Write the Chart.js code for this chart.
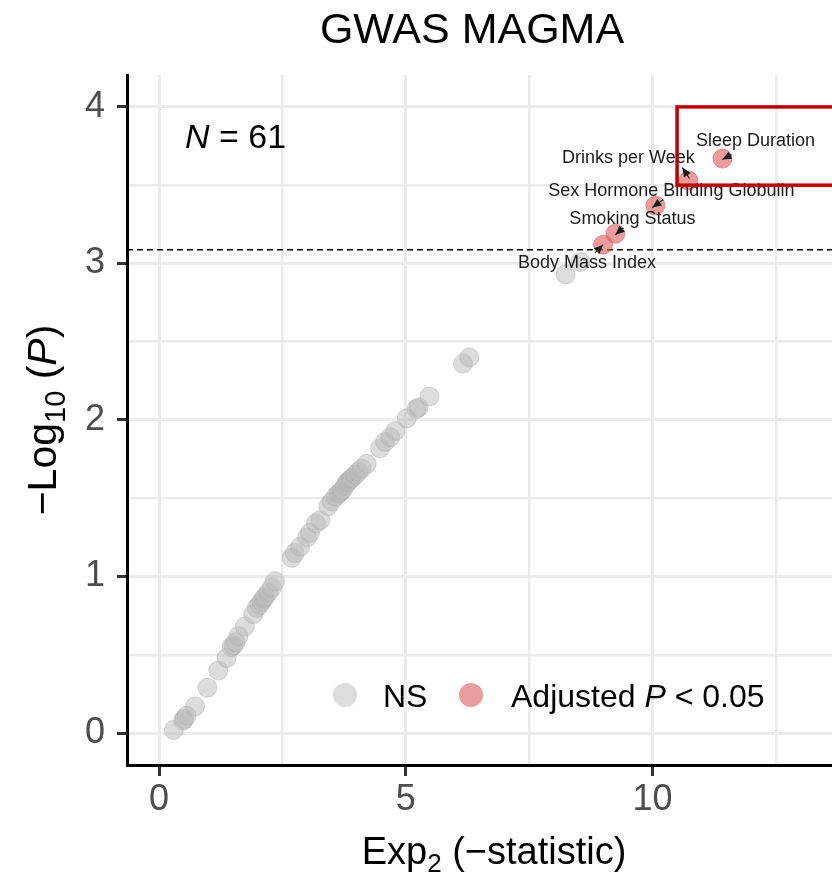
<!DOCTYPE html>
<html>
<head>
<meta charset="utf-8">
<script src="https://cdn.jsdelivr.net/npm/chart.js@4.4.0/dist/chart.umd.min.js"></script>
<style>
  html, body { margin: 0; padding: 0; background: #fff; }
  #wrap { width: 832px; height: 875px; }
</style>
</head>
<body>
<div id="wrap"><canvas id="chart" width="832" height="875"></canvas></div>
<script>
// non-significant genes sets (x = Exp2(-statistic), y = -log10 P)
const nsX = [0.30, 0.49, 0.51, 0.56, 0.73, 0.98, 1.20, 1.37, 1.47, 1.51, 1.55, 1.61, 1.74, 1.91,
  1.98, 2.04, 2.08, 2.12, 2.15, 2.22, 2.29, 2.35, 2.69, 2.75, 2.86, 3.00, 3.06, 3.18, 3.27,
  3.43, 3.50, 3.58, 3.64, 3.68, 3.71, 3.77, 3.81, 3.84, 3.88, 3.91, 3.98, 4.04, 4.11, 4.21,
  4.48, 4.58, 4.69, 4.79, 5.02, 5.22, 5.26, 5.48, 6.16, 6.29, 8.24, 8.54];
const nsY = [0.02, 0.08, 0.09, 0.11, 0.17, 0.29, 0.40, 0.48, 0.55, 0.56, 0.58, 0.62, 0.68, 0.76,
  0.80, 0.82, 0.84, 0.86, 0.87, 0.90, 0.93, 0.97, 1.12, 1.15, 1.19, 1.25, 1.28, 1.34, 1.36,
  1.45, 1.48, 1.51, 1.53, 1.54, 1.55, 1.58, 1.60, 1.61, 1.62, 1.63, 1.65, 1.67, 1.69, 1.72,
  1.82, 1.86, 1.89, 1.93, 2.01, 2.07, 2.08, 2.15, 2.36, 2.40, 2.93, 3.01];

// significant traits
const sigX = [11.42, 10.73, 10.06, 9.25, 9.00];
const sigY = [3.67, 3.53, 3.37, 3.19, 3.12];
const sigLabels = ['Sleep Duration', 'Drinks per Week', 'Sex Hormone Binding Globulin',
  'Smoking Status', 'Body Mass Index'];

const threshold = 3.087;   // -log10(0.05 / 61)
const nTotal = 61;
const boxX = [10.5, 14.5];
const boxY = [3.5, 4.0];

const xGrid = [0, 2.5, 5, 7.5, 10, 12.5];
const yGrid = [0, 0.5, 1, 1.5, 2, 2.5, 3, 3.5, 4];

// where each repel label sits relative to its point (px), and its little arrow
const labelLayout = [
  { dx: 33, dy: -18, ax: 9, ay: -4, bx: 0, by: 1 },
  { dx: -60, dy: -22, ax: 1, ay: -2, bx: -6, by: -13 },
  { dx: 16, dy: -15, ax: 8, ay: -6, bx: -3, by: 2 },
  { dx: 17, dy: -15, ax: 8, ay: -6, bx: 0, by: 1 },
  { dx: -16, dy: 18, ax: -8, ay: 8, bx: 0, by: 0 }
];

const FONT = '"Liberation Sans", Arial, Helvetica, sans-serif';
const GRAY = 'rgba(185, 185, 185, 0.5)';
const RED = 'rgba(220, 90, 95, 0.6)';

function font(size, italic) {
  return (italic ? 'italic ' : '') + size + 'px ' + FONT;
}

// draws a run of text pieces (subscripts / italics) centred on x
function drawRuns(ctx, parts, x, y, align) {
  let total = 0;
  parts.forEach(p => {
    ctx.font = font(p.size, p.italic);
    p.w = ctx.measureText(p.text).width;
    total += p.w;
  });
  let cx = align === 'left' ? x : x - total / 2;
  ctx.textAlign = 'left';
  ctx.textBaseline = 'alphabetic';
  parts.forEach(p => {
    ctx.font = font(p.size, p.italic);
    ctx.fillText(p.text, cx, y + (p.dy || 0));
    cx += p.w;
  });
}

function arrowHead(ctx, x1, y1, x2, y2) {
  const ang = Math.atan2(y2 - y1, x2 - x1);
  const len = 9, half = 4;
  ctx.beginPath();
  ctx.moveTo(x2, y2);
  ctx.lineTo(x2 - len * Math.cos(ang) + half * Math.sin(ang), y2 - len * Math.sin(ang) - half * Math.cos(ang));
  ctx.lineTo(x2 - len * Math.cos(ang) - half * Math.sin(ang), y2 - len * Math.sin(ang) + half * Math.cos(ang));
  ctx.closePath();
  ctx.fill();
}

const decorations = {
  id: 'decorations',
  beforeDatasetsDraw(chart) {
    const { ctx, chartArea, scales } = chart;
    const yy = scales.y.getPixelForValue(threshold);
    ctx.save();
    ctx.strokeStyle = '#000';
    ctx.lineWidth = 1.5;
    ctx.setLineDash([6, 4]);
    ctx.beginPath();
    ctx.moveTo(chartArea.left, yy);
    ctx.lineTo(chartArea.right, yy);
    ctx.stroke();
    ctx.restore();
  },
  afterDatasetsDraw(chart) {
    const { ctx, scales } = chart;
    const xs = scales.x, ys = scales.y;
    ctx.save();

    // repel labels
    ctx.fillStyle = '#1a1a1a';
    sigLabels.forEach((lab, i) => {
      const px = xs.getPixelForValue(sigX[i]);
      const py = ys.getPixelForValue(sigY[i]);
      const l = labelLayout[i];
      ctx.font = font(18);
      ctx.textAlign = 'center';
      ctx.textBaseline = 'middle';
      ctx.fillText(lab, px + l.dx, py + l.dy);
      ctx.strokeStyle = '#1a1a1a';
      ctx.lineWidth = 1.2;
      ctx.beginPath();
      ctx.moveTo(px + l.ax, py + l.ay);
      ctx.lineTo(px + l.bx, py + l.by);
      ctx.stroke();
      arrowHead(ctx, px + l.ax, py + l.ay, px + l.bx, py + l.by);
    });

    // highlight box
    const bx1 = xs.getPixelForValue(boxX[0]);
    const bx2 = xs.getPixelForValue(boxX[1]);
    const by1 = ys.getPixelForValue(boxY[1]);
    const by2 = ys.getPixelForValue(boxY[0]);
    ctx.strokeStyle = '#c00000';
    ctx.lineWidth = 3.5;
    ctx.strokeRect(bx1, by1, bx2 - bx1, by2 - by1);

    // N annotation
    ctx.fillStyle = '#000';
    drawRuns(ctx, [
      { text: 'N', size: 34, italic: true },
      { text: ' = ' + nTotal, size: 34 }
    ], 185, 148, 'left');

    // legend
    ctx.fillStyle = GRAY;
    ctx.beginPath(); ctx.arc(345, 695, 12, 0, Math.PI * 2); ctx.fill();
    ctx.fillStyle = RED;
    ctx.beginPath(); ctx.arc(471, 695, 12, 0, Math.PI * 2); ctx.fill();
    ctx.fillStyle = '#000';
    drawRuns(ctx, [{ text: 'NS', size: 32 }], 383, 707, 'left');
    drawRuns(ctx, [
      { text: 'Adjusted ', size: 32 },
      { text: 'P', size: 32, italic: true },
      { text: ' < 0.05', size: 32 }
    ], 511, 707, 'left');
    ctx.restore();
  },
  afterDraw(chart) {
    const { ctx } = chart;
    ctx.save();
    ctx.fillStyle = '#000';
    drawRuns(ctx, [{ text: 'GWAS MAGMA', size: 43 }], 472, 43);
    drawRuns(ctx, [
      { text: 'Exp', size: 38 },
      { text: '2', size: 26, dy: 8 },
      { text: ' (\u2212statistic)', size: 38 }
    ], 494, 864);
    ctx.translate(56, 420);
    ctx.rotate(-Math.PI / 2);
    drawRuns(ctx, [
      { text: '\u2212Log', size: 41 },
      { text: '10', size: 29, dy: 9 },
      { text: ' (', size: 41 },
      { text: 'P', size: 41, italic: true },
      { text: ')', size: 41 }
    ], 0, 0);
    ctx.restore();
  }
};

const isMajorX = v => Math.abs(v % 5) < 1e-9;
const isMajorY = v => Math.abs(v % 1) < 1e-9;

new Chart(document.getElementById('chart'), {
  type: 'scatter',
  data: {
    datasets: [
      {
        label: 'NS',
        data: nsX.map((x, i) => ({ x: x, y: nsY[i] })),
        backgroundColor: GRAY,
        borderColor: 'rgba(170, 170, 170, 0.45)',
        borderWidth: 1,
        pointRadius: 9.5
      },
      {
        label: 'Adjusted P < 0.05',
        data: sigX.map((x, i) => ({ x: x, y: sigY[i] })),
        backgroundColor: RED,
        borderColor: 'rgba(215, 80, 85, 0.5)',
        borderWidth: 1,
        pointRadius: 9.5
      }
    ]
  },
  options: {
    responsive: false,
    animation: false,
    events: [],
    layout: { autoPadding: false, padding: { top: 75, left: 0, right: 0, bottom: 0 } },
    plugins: {
      legend: { display: false },
      tooltip: { enabled: false },
      title: { display: false }
    },
    scales: {
      x: {
        type: 'linear',
        min: -0.649,
        max: 13.64,
        afterBuildTicks: s => { s.ticks = xGrid.map(v => ({ value: v })); },
        afterFit: s => { s.height = 110; s.paddingLeft = 0; s.paddingRight = 0; },
        ticks: {
          autoSkip: false,
          maxRotation: 0,
          padding: 2,
          color: '#4d4d4d',
          font: { family: FONT, size: 36 },
          callback: v => isMajorX(v) ? String(v) : ''
        },
        grid: {
          color: '#ebebeb',
          lineWidth: c => (c.tick && isMajorX(c.tick.value)) ? 3 : 2.5,
          tickColor: c => (c.tick && isMajorX(c.tick.value)) ? '#333' : 'rgba(0,0,0,0)',
          tickLength: 11,
          tickWidth: 3
        },
        border: { display: true, color: '#000', width: 3 }
      },
      y: {
        type: 'linear',
        min: -0.204,
        max: 4.204,
        afterBuildTicks: s => { s.ticks = yGrid.map(v => ({ value: v })); },
        afterFit: s => { s.width = 127; s.paddingTop = 0; s.paddingBottom = 0; },
        ticks: {
          autoSkip: false,
          padding: 12,
          color: '#4d4d4d',
          font: { family: FONT, size: 36 },
          callback: v => isMajorY(v) ? String(v) : ''
        },
        grid: {
          color: '#ebebeb',
          lineWidth: c => (c.tick && isMajorY(c.tick.value)) ? 3 : 2.5,
          tickColor: c => (c.tick && isMajorY(c.tick.value)) ? '#333' : 'rgba(0,0,0,0)',
          tickLength: 10,
          tickWidth: 3
        },
        border: { display: true, color: '#000', width: 3 }
      }
    }
  },
  plugins: [decorations]
});
</script>
</body>
</html>
